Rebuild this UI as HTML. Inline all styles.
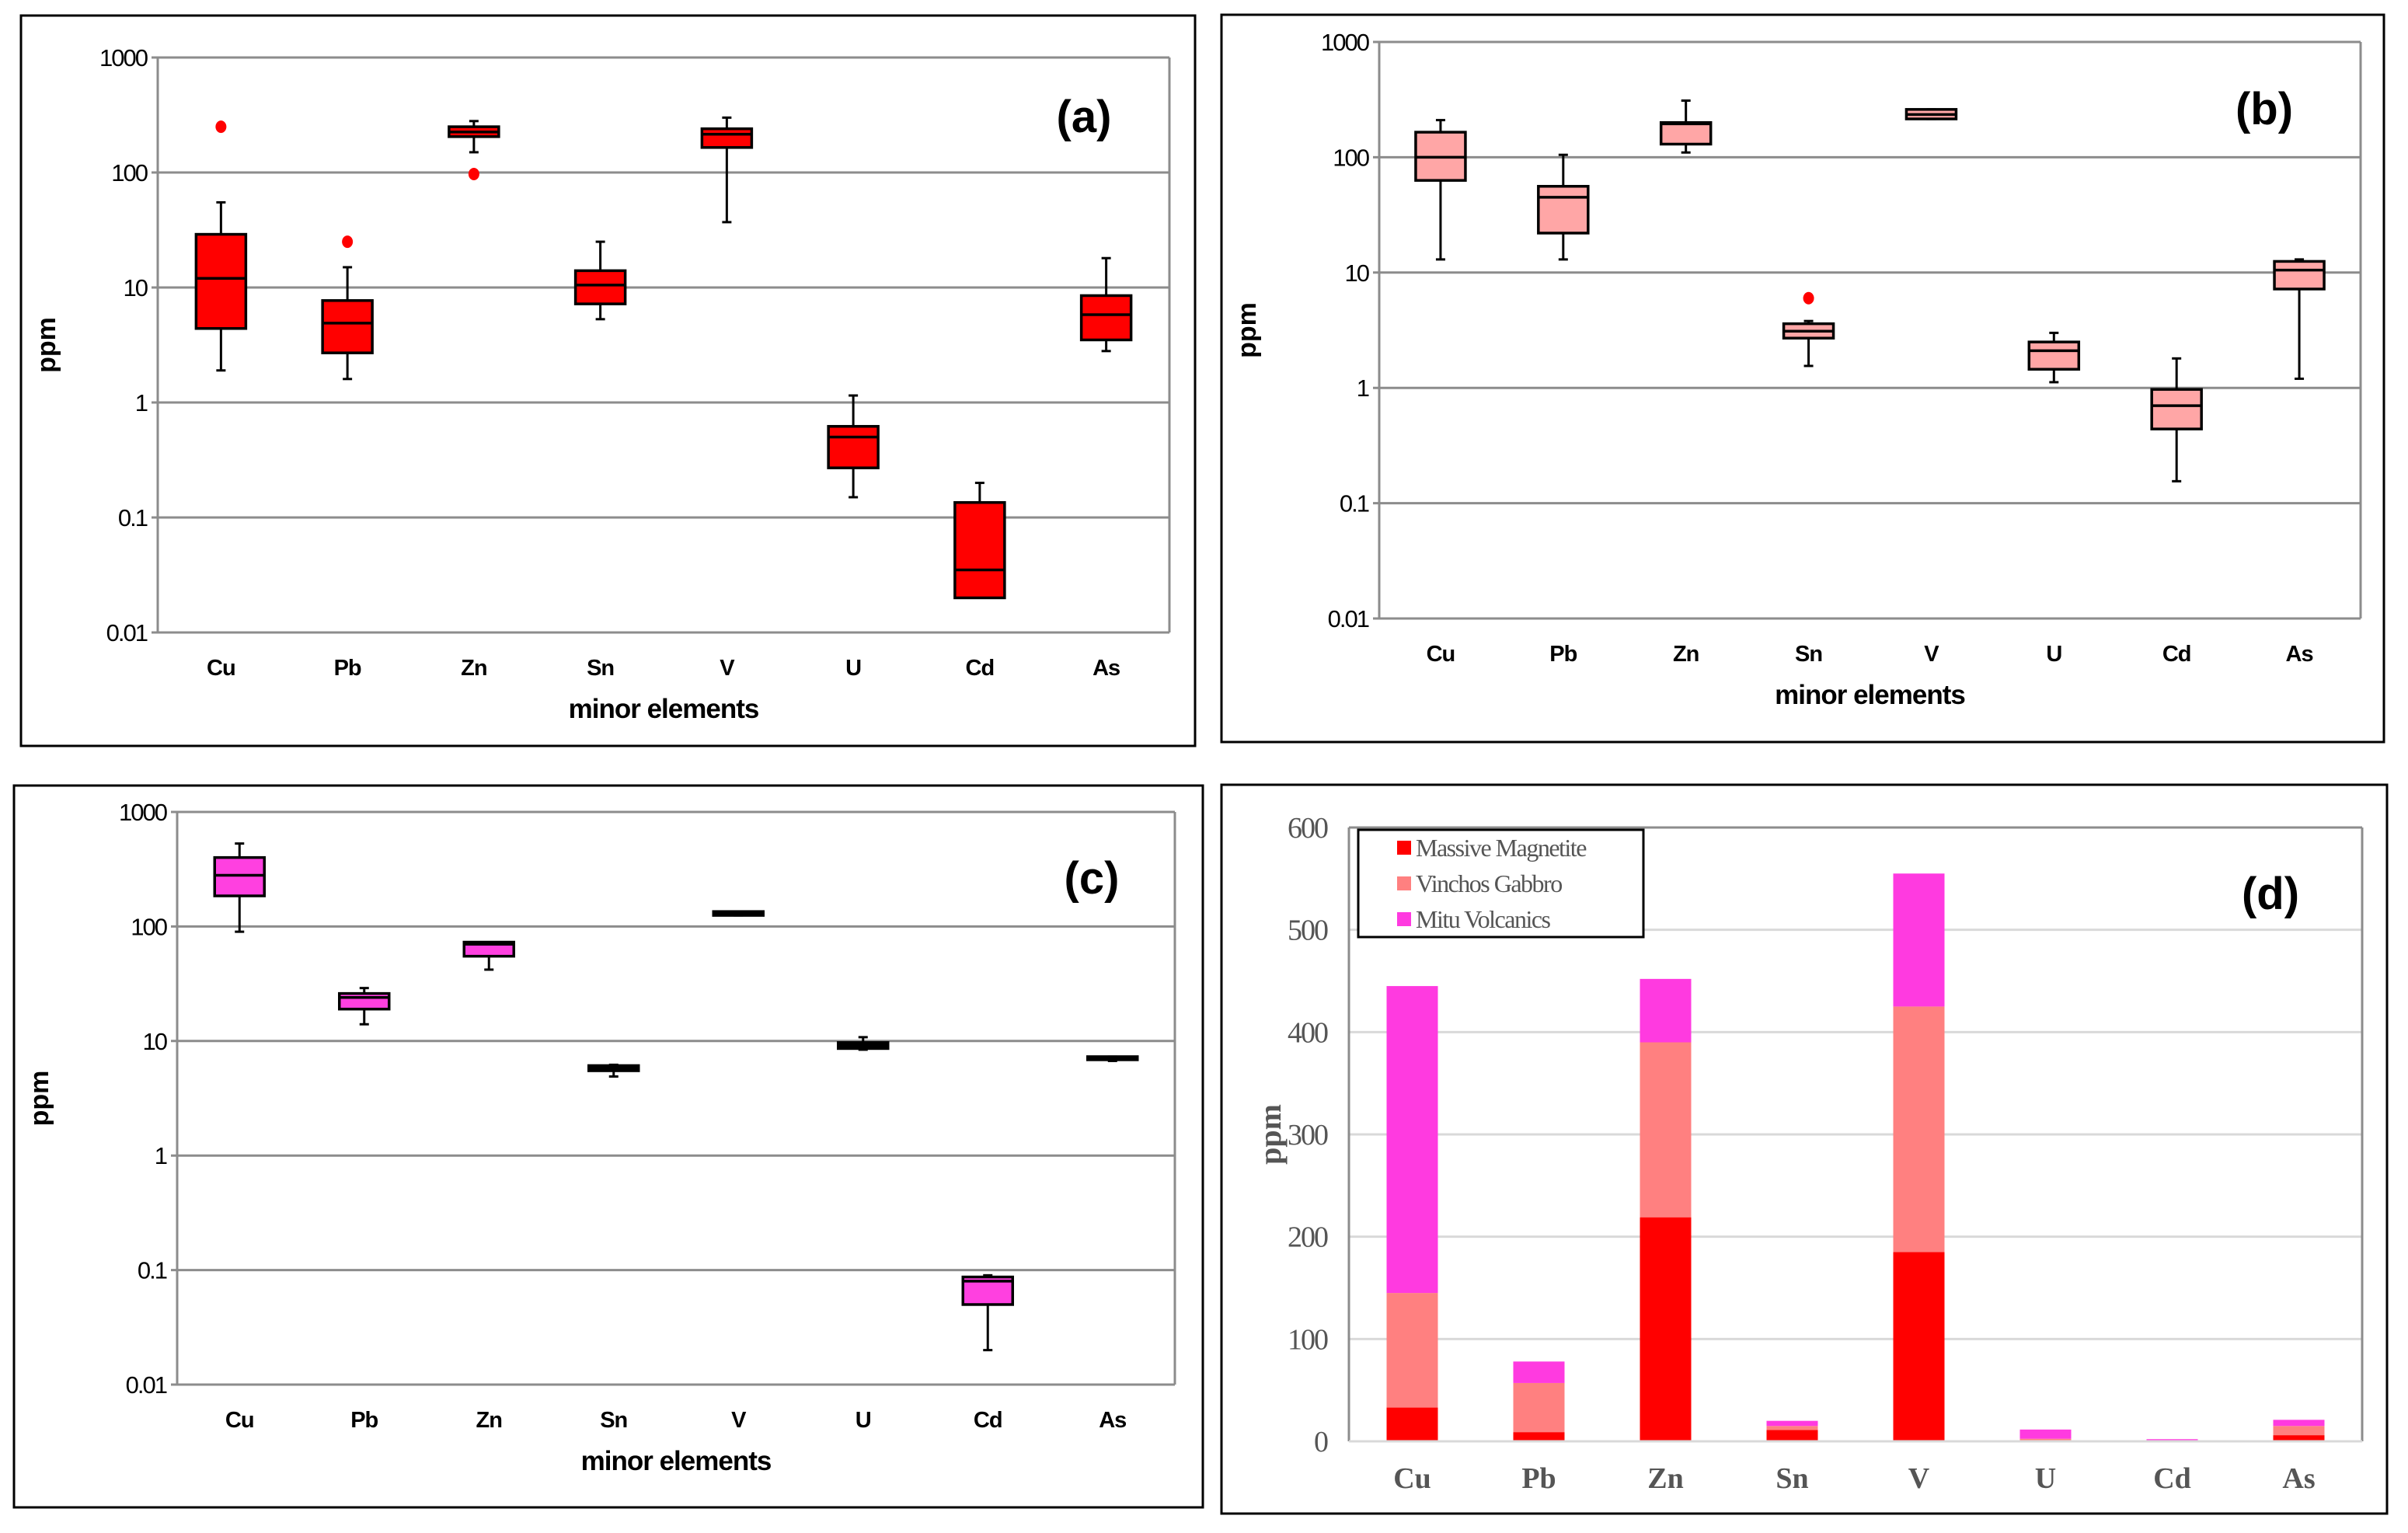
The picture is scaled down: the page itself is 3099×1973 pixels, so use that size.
<!DOCTYPE html>
<html><head><meta charset="utf-8"><style>
html,body{margin:0;padding:0;background:#fff}
svg{display:block}
</style></head><body>
<svg id="fig" width="3099" height="1973" viewBox="0 0 3099 1973" xmlns="http://www.w3.org/2000/svg"></svg>
<script>
const categories = ["Cu","Pb","Zn","Sn","V","U","Cd","As"];
// panel a: [min, q1, median, q3, max]
const aMin = [1.9, 1.6, 150, 5.3, 37, 0.15, 0.02, 2.8];
const aQ1  = [4.4, 2.7, 205, 7.2, 165, 0.27, 0.02, 3.5];
const aMed = [12, 4.9, 225, 10.5, 215, 0.5, 0.035, 5.8];
const aQ3  = [29, 7.7, 250, 14, 240, 0.62, 0.135, 8.5];
const aMax = [55, 15, 280, 25, 300, 1.15, 0.2, 18];
const aOutliers = [[0,250],[1,25],[2,97]];
// panel b
const bMin = [13, 13, 110, 1.55, 215, 1.12, 0.155, 1.2];
const bQ1  = [63, 22, 130, 2.7, 215, 1.45, 0.44, 7.2];
const bMed = [100, 45, 195, 3.1, 235, 2.1, 0.7, 10.5];
const bQ3  = [165, 56, 200, 3.6, 260, 2.5, 0.97, 12.5];
const bMax = [210, 105, 310, 3.8, 260, 3.0, 1.8, 13];
const bOutliers = [[3,6]];
// panel c
const cMin = [90, 14, 42, 4.9, 125, 8.4, 0.02, 6.7];
const cQ1  = [185, 19, 55, 5.5, 125, 8.6, 0.05, 6.9];
const cMed = [280, 24, 70, 5.9, 130, 9.2, 0.08, 7.1];
const cQ3  = [400, 26, 73, 6.1, 135, 9.7, 0.087, 7.3];
const cMax = [530, 29, 73, 6.2, 135, 10.8, 0.09, 7.3];
const cOutliers = [];
const logTicks = [1000, 100, 10, 1, 0.1, 0.01];
const logTickLabels = ["1000","100","10","1","0.1","0.01"];
// panel d stacked
const dMassive = [33, 9, 219, 11, 185, 0.5, 0.3, 6];
const dGabbro  = [112, 48, 171, 4, 240, 2, 0.8, 9];
const dMitu    = [300, 21, 62, 5, 130, 9, 1, 6];
const dTicks = [0,100,200,300,400,500,600];
const seriesNames = ["Massive Magnetite","Vinchos Gabbro","Mitu Volcanics"];

const NS = "http://www.w3.org/2000/svg";
const svg = document.getElementById("fig");
function mk(tag, attrs, parent, text){
  const e = document.createElementNS(NS, tag);
  for (const k in attrs) e.setAttribute(k, attrs[k]);
  if (text !== undefined) e.textContent = text;
  (parent || svg).appendChild(e);
  return e;
}

function boxPanel(P){
  const g = mk("g", {});
  
  
  const fr = mk("rect", {x:P.fx, y:P.fy, width:P.fw, height:P.fh, fill:"#fff", stroke:"#000", "stroke-width":3}, g);
  
  
  const yS = v => P.y0 + (3 - Math.log10(v)) * (P.y1 - P.y0) / 5;
  const step = (P.x1 - P.x0) / categories.length;
  const xS = i => P.x0 + step * (i + 0.5);
  logTicks.forEach((t, i) => {
    const ln = mk("line", {x1:P.x0 - 8, x2:P.x1, y1:yS(t), y2:yS(t), stroke:"#8c8c8c", "stroke-width":3}, g);
    
    
    const tx = mk("text", {x:P.x0 - 14, y:yS(t) + 11, "text-anchor":"end", "font-family":"Liberation Sans, sans-serif", "font-size":31, fill:"#000", "letter-spacing":"-2"}, g, logTickLabels[i]);
    
    
  });
  const ax = mk("line", {x1:P.x0, x2:P.x0, y1:P.y0, y2:P.y1, stroke:"#8c8c8c", "stroke-width":3}, g);
  
  
  const rt = mk("line", {x1:P.x1, x2:P.x1, y1:P.y0, y2:P.y1, stroke:"#8c8c8c", "stroke-width":3}, g);
  
  
  const bw = 64;
  categories.forEach((c, i) => {
    const cx = xS(i);
    const bg = mk("g", {}, g);
    
    
    mk("line", {x1:cx, x2:cx, y1:yS(P.max[i]), y2:yS(P.q3[i]), stroke:"#000", "stroke-width":3}, bg);
    mk("line", {x1:cx, x2:cx, y1:yS(P.q1[i]), y2:yS(P.min[i]), stroke:"#000", "stroke-width":3}, bg);
    mk("line", {x1:cx-6, x2:cx+6, y1:yS(P.max[i]), y2:yS(P.max[i]), stroke:"#000", "stroke-width":3}, bg);
    mk("line", {x1:cx-6, x2:cx+6, y1:yS(P.min[i]), y2:yS(P.min[i]), stroke:"#000", "stroke-width":3}, bg);
    const top = yS(P.q3[i]), bot = yS(P.q1[i]);
    const h = bot - top;
    mk("rect", {x:cx-bw/2, y:top, width:bw, height:Math.max(h, 4), fill: h < 12 ? "#000" : P.color, stroke:"#000", "stroke-width":3.5}, bg);
    mk("line", {x1:cx-bw/2, x2:cx+bw/2, y1:yS(P.med[i]), y2:yS(P.med[i]), stroke:"#000", "stroke-width":3.5}, bg);
    const tl = mk("text", {x:cx, y:P.y1 + 55, "text-anchor":"middle", "font-family":"Liberation Sans, sans-serif", "font-size":29, "font-weight":"bold", fill:"#000", "letter-spacing":"-1"}, g, c);
    
    
  });
  P.out.forEach(o => {
    const d = mk("ellipse", {cx:xS(o[0]), cy:yS(o[1]), rx:7, ry:8, fill:"#ff0000"}, g);
    
    
  });
  const xt = mk("text", {x:(P.x0+P.x1)/2, y:P.y1 + 110, "text-anchor":"middle", "font-family":"Liberation Sans, sans-serif", "font-size":35, "font-weight":"bold", fill:"#000", "letter-spacing":"-1"}, g, "minor elements");
  
  
  const yx = P.fx + 44, yy = (P.y0+P.y1)/2;
  const yt = mk("text", {x:yx, y:yy, transform:`rotate(-90 ${yx} ${yy})`, "text-anchor":"middle", "font-family":"Liberation Sans, sans-serif", "font-size":34, "font-weight":"bold", fill:"#000"}, g, "ppm");
  
  
  const lab = mk("text", {x:P.labX, y:P.labY, "text-anchor":"middle", "font-family":"Liberation Sans, sans-serif", "font-size":58, "font-weight":"bold", fill:"#000"}, g, P.label);
  
  
}

boxPanel({name:"panel-a", fx:27, fy:20, fw:1511, fh:940, x0:203, x1:1505, y0:74, y1:814,
  min:aMin, q1:aQ1, med:aMed, q3:aQ3, max:aMax, out:aOutliers, color:"#ff0000", label:"(a)", labX:1395, labY:170});
boxPanel({name:"panel-b", fx:1572, fy:19, fw:1496, fh:936, x0:1775, x1:3038, y0:54, y1:796,
  min:bMin, q1:bQ1, med:bMed, q3:bQ3, max:bMax, out:bOutliers, color:"#ffa6a6", label:"(b)", labX:2914, labY:160});
boxPanel({name:"panel-c", fx:18, fy:1011, fw:1530, fh:929, x0:228, x1:1512, y0:1045, y1:1782,
  min:cMin, q1:cQ1, med:cMed, q3:cQ3, max:cMax, out:cOutliers, color:"#ff40e0", label:"(c)", labX:1405, labY:1150});

// panel d
(function(){
  const g = mk("g", {});
  
  
  const fr = mk("rect", {x:1572, y:1010, width:1500, height:938, fill:"#fff", stroke:"#000", "stroke-width":3}, g);
  
  
  const x0 = 1736, x1 = 3040, y0 = 1855, yTop = 1065;
  const yS = v => y0 - v * (y0 - yTop) / 600;
  const step = (x1 - x0) / categories.length;
  const xS = i => x0 + step * (i + 0.5);
  dTicks.forEach(t => {
    const ln = mk("line", {x1:x0, x2:x1, y1:yS(t), y2:yS(t), stroke:"#d9d9d9", "stroke-width":3}, g);
    
    
    const tx = mk("text", {x:x0 - 28, y:yS(t) + 13, "text-anchor":"end", "font-family":"Liberation Serif, serif", "font-size":38, fill:"#555", "letter-spacing":"-2"}, g, String(t));
    
    
  });
  mk("line", {x1:x0, x2:x0, y1:yTop, y2:y0, stroke:"#8c8c8c", "stroke-width":3}, g);
  mk("line", {x1:x1, x2:x1, y1:yTop, y2:y0, stroke:"#8c8c8c", "stroke-width":3}, g);
  mk("line", {x1:x0, x2:x1, y1:yTop, y2:yTop, stroke:"#8c8c8c", "stroke-width":3}, g);
  const colors = ["#ff0000","#ff8080","#ff3ae0"];
  const series = [dMassive, dGabbro, dMitu];
  const bw = 66;
  categories.forEach((c, i) => {
    let base = 0;
    series.forEach((s, k) => {
      const r = mk("rect", {x:xS(i)-bw/2, y:yS(base + s[i]), width:bw, height:yS(base) - yS(base + s[i]), fill:colors[k]}, g);
      
      
      base += s[i];
    });
    const tl = mk("text", {x:xS(i), y:y0 + 60, "text-anchor":"middle", "font-family":"Liberation Serif, serif", "font-size":38, "font-weight":"bold", fill:"#555"}, g, c);
    
    
  });
  mk("line", {x1:x0, x2:x1, y1:y0, y2:y0, stroke:"#d9d9d9", "stroke-width":3}, g);
  const yt = mk("text", {x:1648, y:1460, transform:"rotate(-90 1648 1460)", "text-anchor":"middle", "font-family":"Liberation Serif, serif", "font-size":40, "font-weight":"bold", fill:"#555"}, g, "ppm");
  
  
  const lg = mk("g", {}, g);
  
  
  mk("rect", {x:1748, y:1068, width:367, height:138, fill:"#fff", stroke:"#000", "stroke-width":3}, lg);
  seriesNames.forEach((n, k) => {
    const e = mk("g", {}, lg);
    
    
    mk("rect", {x:1798, y:1082 + k*46, width:18, height:18, fill:colors[k]}, e);
    mk("text", {x:1822, y:1102 + k*46, "font-family":"Liberation Serif, serif", "font-size":32, fill:"#555", "letter-spacing":"-1.5"}, e, n);
  });
  const lab = mk("text", {x:2922, y:1170, "text-anchor":"middle", "font-family":"Liberation Sans, sans-serif", "font-size":58, "font-weight":"bold", fill:"#000"}, g, "(d)");
  
  
})();
</script>
</body></html>
